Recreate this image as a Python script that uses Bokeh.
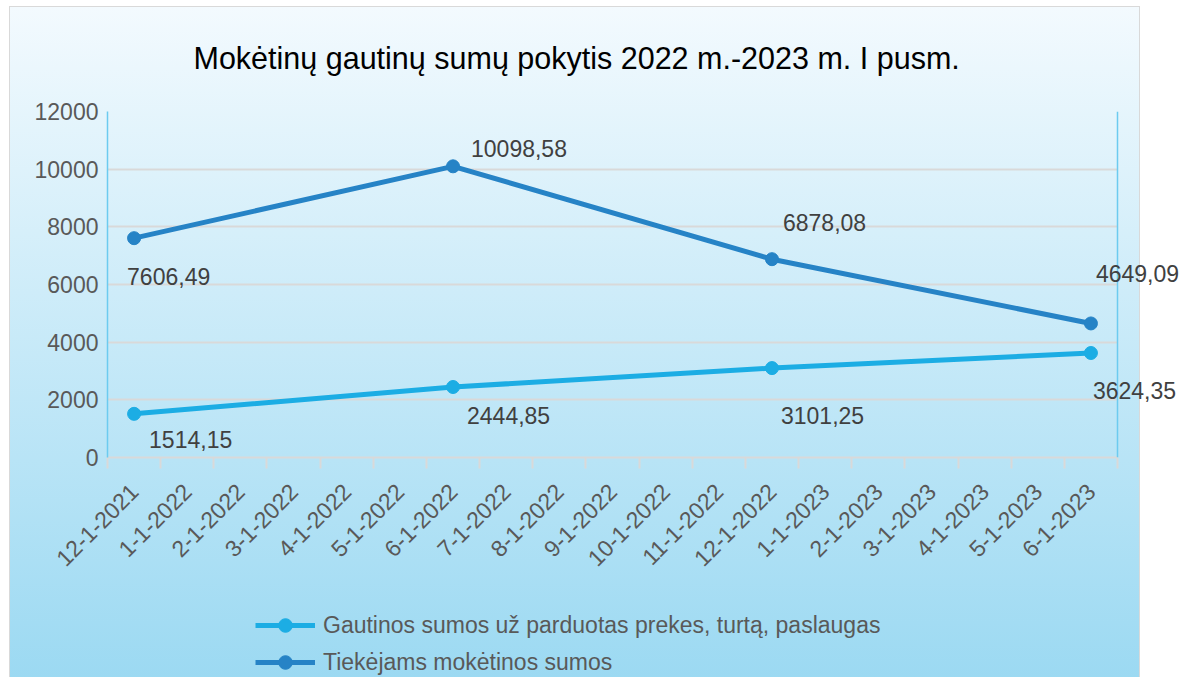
import math
from bokeh.plotting import figure
from bokeh.layouts import column
from bokeh.models import (Range1d, FixedTicker, ColumnDataSource, LabelSet, Legend,
                          LegendItem, Span)
from bokeh.core.properties import value
from bokeh.embed import file_html
from bokeh.resources import INLINE

# ---------------- data ----------------
title_text = "Mokėtinų gautinų sumų pokytis 2022 m.-2023 m. I pusm."
months = ["12-1-2021", "1-1-2022", "2-1-2022", "3-1-2022", "4-1-2022", "5-1-2022",
          "6-1-2022", "7-1-2022", "8-1-2022", "9-1-2022", "10-1-2022", "11-1-2022",
          "12-1-2022", "1-1-2023", "2-1-2023", "3-1-2023", "4-1-2023", "5-1-2023",
          "6-1-2023"]
dates = ["12-1-2021", "6-1-2022", "12-1-2022", "6-1-2023"]
gautinos = [1514.15, 2444.85, 3101.25, 3624.35]
tiekejams = [7606.49, 10098.58, 6878.08, 4649.09]
series_names = ["Gautinos sumos už parduotas prekes, turtą, paslaugas",
                "Tiekėjams mokėtinos sumos"]
y_ticks = [0, 2000, 4000, 6000, 8000, 10000, 12000]
y_tick_labels = ["0", "2000", "4000", "6000", "8000", "10000", "12000"]

# ---------------- layout / style ----------------
FONT = "Liberation Sans"
C_LIGHT = "#1CADE4"
C_DARK = "#2683C6"
GRID = "#D9D9D9"
AXBLUE = "#6CCBF0"
TXT = "#595959"
LBL = "#404040"
W = 1188
H1, H2 = 600, 77       # chart part, legend part
FRAME_L, FRAME_T, FRAME_B = 107, 111, 457
AXIS_R = 1117          # where the month axis ends
FRAME_R = 1180         # frame extended so labels past the axis stay visible
LEGEND_X = 255
light_dx = [15, 14, 9, 2]
light_dy = [-26, -28, -47, -38]
dark_dx = [-7, 18, 11, 5]
dark_dy = [-38, 18, 37, 50]

n = len(months)
x_end = n * (FRAME_R - FRAME_L) / (AXIS_R - FRAME_L)
xs = [months.index(d) + 0.5 for d in dates]

p = figure(width=W, height=H1, output_backend="svg", toolbar_location=None,
           x_range=Range1d(0, x_end), y_range=Range1d(y_ticks[0], y_ticks[-1]),
           min_border_left=FRAME_L, min_border_top=FRAME_T,
           min_border_right=W - FRAME_R, min_border_bottom=H1 - FRAME_B)
p.border_fill_color = None
p.background_fill_color = None
p.outline_line_color = None

# title
p.title.text = title_text
p.title.align = "left"
p.title.offset = 86
p.title.text_font = FONT
p.title.text_font_size = "30.5px"
p.title.text_font_style = "normal"
p.title.text_color = "#000000"
p.title.standoff = 74

# x axis
xax = p.xaxis[0]
xax.bounds = (0, n)
xax.ticker = FixedTicker(ticks=[i + 0.5 for i in range(n)],
                         minor_ticks=list(range(n + 1)))
xax.major_label_overrides = {i + 0.5: m for i, m in enumerate(months)}
xax.major_label_orientation = math.pi / 4
xax.major_tick_line_color = None
xax.major_tick_out = 0
xax.major_tick_in = 0
xax.minor_tick_line_color = GRID
xax.minor_tick_line_width = 2
xax.minor_tick_out = 11
xax.minor_tick_in = 0
xax.axis_line_color = GRID
xax.axis_line_width = 2
xax.major_label_text_font = FONT
xax.major_label_text_font_size = "23px"
xax.major_label_text_color = TXT
xax.major_label_standoff = 19

# y axis
yax = p.yaxis[0]
yax.ticker = FixedTicker(ticks=y_ticks)
yax.major_label_overrides = {t: l for t, l in zip(y_ticks, y_tick_labels)}
yax.major_tick_line_color = None
yax.major_tick_out = 0
yax.major_tick_in = 0
yax.minor_tick_line_color = None
yax.axis_line_color = AXBLUE
yax.axis_line_width = 1.5
yax.major_label_text_font = FONT
yax.major_label_text_font_size = "23px"
yax.major_label_text_color = TXT
yax.major_label_standoff = 9

# horizontal grid lines, limited to the month axis
p.xgrid.grid_line_color = None
try:
    p.ygrid.cross_bounds = (0, n)
    p.ygrid.ticker = FixedTicker(ticks=y_ticks)
    p.ygrid.grid_line_color = GRID
    p.ygrid.grid_line_width = 2
except AttributeError:
    p.ygrid.grid_line_color = None
    p.segment(x0=[0] * len(y_ticks), x1=[n] * len(y_ticks), y0=y_ticks, y1=y_ticks,
              line_color=GRID, line_width=2, level="underlay")

p.add_layout(Span(location=n, dimension="height", line_color=AXBLUE, line_width=1.5))

# series
src_l = ColumnDataSource(dict(x=xs, y=gautinos,
                              t=[f"{v:.2f}".replace(".", ",") for v in gautinos],
                              dx=light_dx, dy=light_dy))
src_d = ColumnDataSource(dict(x=xs, y=tiekejams,
                              t=[f"{v:.2f}".replace(".", ",") for v in tiekejams],
                              dx=dark_dx, dy=dark_dy))

p.line("x", "y", source=src_l, line_color=C_LIGHT, line_width=5)
p.scatter("x", "y", source=src_l, size=13, fill_color=C_LIGHT, line_color=C_LIGHT)
p.line("x", "y", source=src_d, line_color=C_DARK, line_width=5)
p.scatter("x", "y", source=src_d, size=13, fill_color=C_DARK, line_color=C_DARK)

for src in (src_l, src_d):
    ls = LabelSet(x="x", y="y", text="t", source=src, x_offset="dx", y_offset="dy",
                  text_font=value(FONT), text_font_size=value("23px"), text_color=LBL,
                  text_align="left", text_baseline="middle")
    p.add_layout(ls)

# ---------------- legend strip (same series, view kept off their values) ----------------
p2 = figure(width=W, height=H2, output_backend="svg", toolbar_location=None,
            x_range=Range1d(0, 1), y_range=Range1d(-2, -1),
            x_axis_location=None, y_axis_location=None,
            min_border_left=0, min_border_right=0, min_border_top=0, min_border_bottom=0)
p2.border_fill_color = None
p2.background_fill_color = None
p2.outline_line_color = None
p2.grid.visible = False
ll1 = p2.line("x", "y", source=src_l, line_color=C_LIGHT, line_width=5)
ls1 = p2.scatter("x", "y", source=src_l, size=13, fill_color=C_LIGHT, line_color=C_LIGHT)
ll2 = p2.line("x", "y", source=src_d, line_color=C_DARK, line_width=5)
ls2 = p2.scatter("x", "y", source=src_d, size=13, fill_color=C_DARK, line_color=C_DARK)

legend = Legend(items=[LegendItem(label=series_names[0], renderers=[ll1, ls1]),
                       LegendItem(label=series_names[1], renderers=[ll2, ls2])],
                location=(LEGEND_X - FRAME_L, -2), orientation="vertical",
                background_fill_alpha=0, border_line_color=None,
                label_text_font=FONT, label_text_font_size="23px",
                label_text_color=TXT, glyph_width=60, glyph_height=34,
                label_height=34, spacing=3, padding=0, margin=0,
                label_standoff=8)
p2.add_layout(legend, "center")

lay = column(p, p2, spacing=0)
lay.styles = {
    "background-image": "linear-gradient(to bottom, #F3FAFE, #9BD9F2), linear-gradient(#D9D9D9, #D9D9D9)",
    "background-size": "1129px 100%, 1131px 100%",
    "background-position": "10px 7px, 9px 6px",
    "background-repeat": "no-repeat",
}

html = file_html(lay, INLINE)
html = html.replace("</head>", "<style>html,body{overflow:hidden}</style></head>", 1)
open("out.html", "w").write(html)
